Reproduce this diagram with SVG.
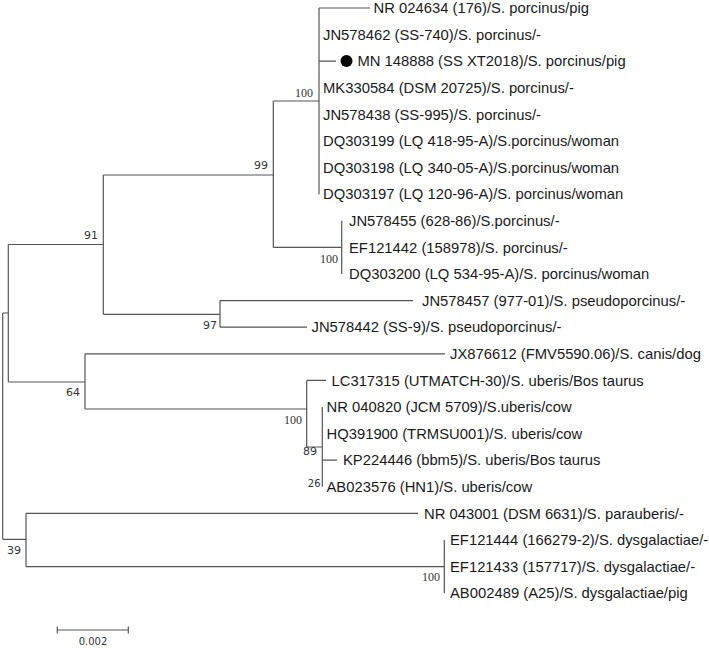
<svg xmlns="http://www.w3.org/2000/svg" width="709" height="648" viewBox="0 0 709 648">
<style>
.t{font-family:"Liberation Sans",Arial,sans-serif;font-size:14.8px;fill:#1a1a1a}
.bs{font-family:"Liberation Serif","Times New Roman",serif;font-size:12px;fill:#333;text-anchor:end}
.bv{font-family:"DejaVu Sans",Verdana,sans-serif;font-size:11px;fill:#333;text-anchor:end}
.e{stroke:#555;stroke-width:1.2;fill:none}
</style>
<rect width="709" height="648" fill="#fff"/>
<g id="connectors" class="e">
<path d="M2.7,313V539.3M2.7,313H8.3M2.7,539.3H26"/>
<path d="M8.3,244.5V382M8.3,244.5H103.3M8.3,382H85"/>
<path d="M103.3,175V314.3M103.3,175H273.3M103.3,314.3H220"/>
<path d="M273.3,101V247.4M273.3,101H319M273.3,247.4H341.7"/>
<path d="M319,8V194.2M319,8H370M319,61.2H336"/>
<path d="M341.7,220.8V274"/>
<path d="M220,300.6V327.2M220,300.6H413M220,327.2H307"/>
<path d="M85,353.8V409M85,353.8H445M85,409H306.7"/>
<path d="M306.7,380.4V447M306.7,380.4H326M306.7,447H322.3"/>
<path d="M322.3,407V486.8M322.3,460.2H337"/>
<path d="M26,513.4V566.6M26,513.4H418M26,566.6H444.3"/>
<path d="M444.3,540V593.2"/>
</g>
<g id="scalebar">
<path class="e" d="M57.3,630H128.3M57.3,626.5V633.5M128.3,626.5V633.5"/>
<text x="93" y="645" style="font-family:'DejaVu Sans',Verdana,sans-serif;font-size:10px;fill:#333;text-anchor:middle">0.002</text>
</g>
<g id="bootstrap">
<g id="n_root39"><text class="bv" x="21" y="554">39</text></g>
<g id="n91"><text class="bv" x="98" y="239">91</text></g>
<g id="n99"><text class="bv" x="268" y="169">99</text></g>
<g id="n100a"><text class="bs" x="313" y="97">100</text></g>
<g id="n100b"><text class="bs" x="338" y="263">100</text></g>
<g id="n97"><text class="bv" x="217" y="329">97</text></g>
<g id="n64"><text class="bv" x="80" y="396">64</text></g>
<g id="n100c"><text class="bs" x="302" y="424">100</text></g>
<g id="n89"><text class="bv" x="317" y="455">89</text></g>
<g id="n26"><text class="bv" x="320.5" y="487" style="font-size:10px">26</text></g>
<g id="n100d"><text class="bs" x="440" y="581">100</text></g>
</g>
<g id="taxa">
<g id="tx0"><text class="t" x="373.5" y="13.2">NR 024634 (176)/S. porcinus/pig</text></g>
<g id="tx1"><text class="t" x="323" y="39.8">JN578462 (SS-740)/S. porcinus/-</text></g>
<g id="tx2"><circle cx="346.5" cy="61" r="6" fill="#000"/><text class="t" x="357.5" y="66.4">MN 148888 (SS XT2018)/S. porcinus/pig</text></g>
<g id="tx3"><text class="t" x="323" y="93">MK330584 (DSM 20725)/S. porcinus/-</text></g>
<g id="tx4"><text class="t" x="323" y="119.6">JN578438 (SS-995)/S. porcinus/-</text></g>
<g id="tx5"><text class="t" x="323" y="146.2">DQ303199 (LQ 418-95-A)/S.porcinus/woman</text></g>
<g id="tx6"><text class="t" x="323" y="172.8">DQ303198 (LQ 340-05-A)/S.porcinus/woman</text></g>
<g id="tx7"><text class="t" x="323" y="199.4">DQ303197 (LQ 120-96-A)/S. porcinus/woman</text></g>
<g id="tx8"><text class="t" x="349" y="226">JN578455 (628-86)/S.porcinus/-</text></g>
<g id="tx9"><text class="t" x="349" y="252.6">EF121442 (158978)/S. porcinus/-</text></g>
<g id="tx10"><text class="t" x="349" y="279.2">DQ303200 (LQ 534-95-A)/S. porcinus/woman</text></g>
<g id="tx11"><text class="t" x="422" y="305.8">JN578457 (977-01)/S. pseudoporcinus/-</text></g>
<g id="tx12"><text class="t" x="311.5" y="332.4">JN578442 (SS-9)/S. pseudoporcinus/-</text></g>
<g id="tx13"><text class="t" x="450" y="359">JX876612 (FMV5590.06)/S. canis/dog</text></g>
<g id="tx14"><text class="t" x="331.5" y="385.6">LC317315 (UTMATCH-30)/S. uberis/Bos taurus</text></g>
<g id="tx15"><text class="t" x="326.5" y="412.2">NR 040820 (JCM 5709)/S.uberis/cow</text></g>
<g id="tx16"><text class="t" x="326.5" y="438.8">HQ391900 (TRMSU001)/S. uberis/cow</text></g>
<g id="tx17"><text class="t" x="343" y="465.4">KP224446 (bbm5)/S. uberis/Bos taurus</text></g>
<g id="tx18"><text class="t" x="326.5" y="492">AB023576 (HN1)/S. uberis/cow</text></g>
<g id="tx19"><text class="t" x="424" y="518.6">NR 043001 (DSM 6631)/S. parauberis/-</text></g>
<g id="tx20"><text class="t" x="450" y="545.2">EF121444 (166279-2)/S. dysgalactiae/-</text></g>
<g id="tx21"><text class="t" x="450" y="571.8">EF121433 (157717)/S. dysgalactiae/-</text></g>
<g id="tx22"><text class="t" x="450" y="598.4">AB002489 (A25)/S. dysgalactiae/pig</text></g>
</g>
</svg>
